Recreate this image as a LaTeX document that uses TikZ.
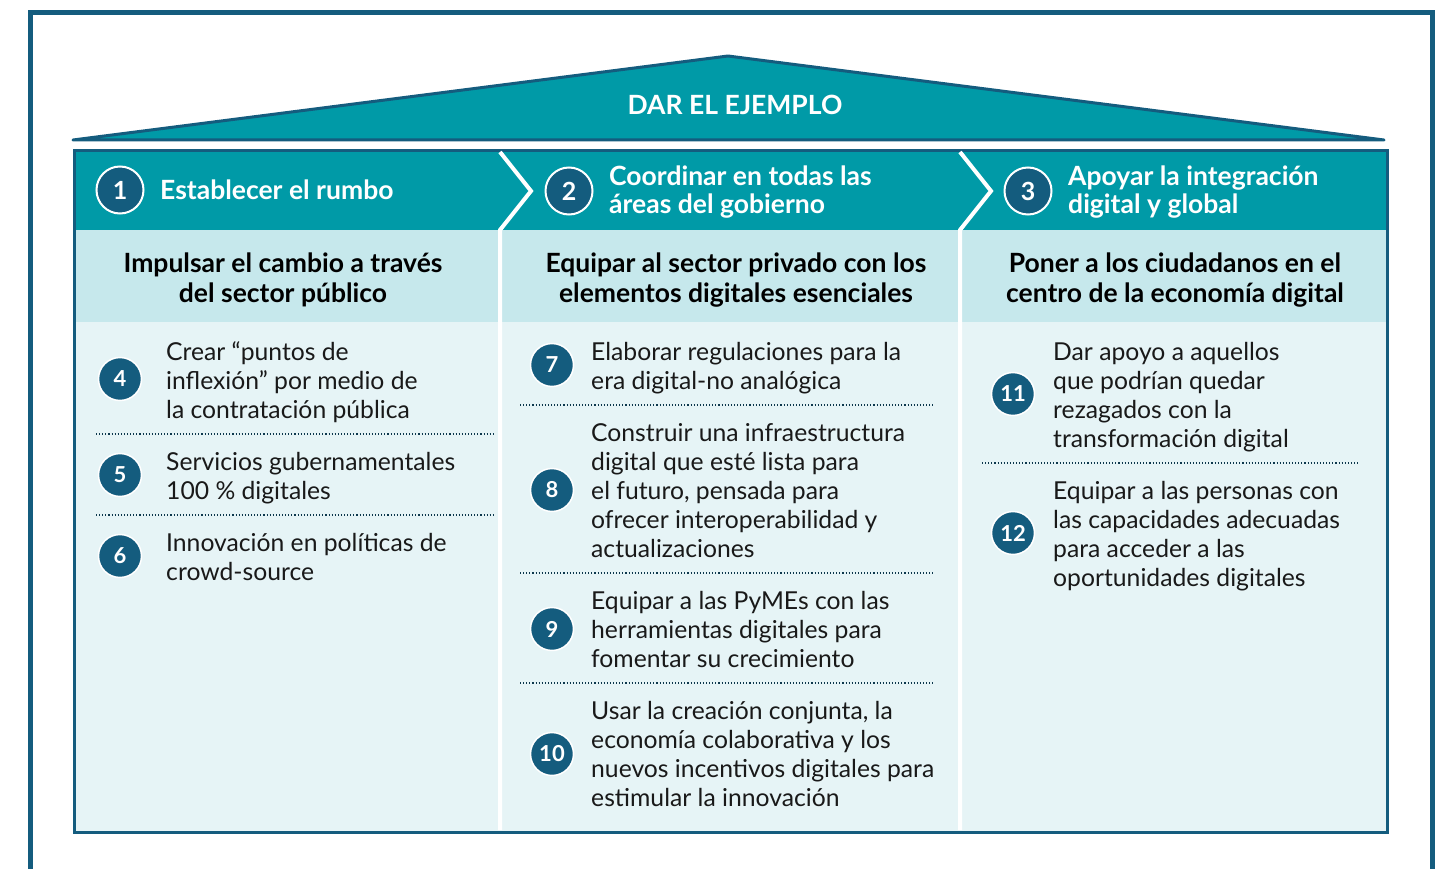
\documentclass[tikz,border=0pt]{standalone}
\usepackage{fontspec}
\setmainfont{Lato}
\definecolor{teal}{RGB}{0,154,167}
\definecolor{dblue}{RGB}{20,92,126}
\definecolor{subbg}{RGB}{198,232,236}
\definecolor{bodybg}{RGB}{230,244,246}
\definecolor{ink}{RGB}{25,25,25}
\tikzset{
  num/.style={circle, fill=dblue, draw=white, line width=1.5pt, minimum size=43pt, inner sep=0pt, text=white, font=\bfseries\fontsize{22}{22}\selectfont},
  hnum/.style={num, minimum size=47pt, line width=2pt, font=\bfseries\fontsize{25}{25}\selectfont},
  body/.style={anchor=base west, align=left, inner sep=0pt, text=ink, font=\fontsize{24.7}{29}\selectfont},
  sub/.style={anchor=base, align=center, inner sep=0pt, text=black, font=\bfseries\fontsize{26.5}{30}\selectfont},
  hdr/.style={anchor=base west, align=left, inner sep=0pt, text=white, font=\bfseries\fontsize{26.5}{28}\selectfont},
  sep/.style={draw=white, line width=4pt, line join=miter},
  dots/.style={draw=dblue!60!black, line width=1.1pt, dash pattern=on 1.1pt off 2pt},
}
\begin{document}
\begin{tikzpicture}[x=1pt,y=-1pt]
\useasboundingbox (0,0) rectangle (1442,869);
\clip (0,0) rectangle (1442,869);
\fill[white] (0,0) rectangle (1442,869);
% outer frame
\draw[dblue, line width=5pt] (30.5,900) -- (30.5,12.5) -- (1432.5,12.5) -- (1432.5,900);
% roof
\fill[teal] (73,140) -- (728,56) -- (1384,140) -- cycle;
\draw[dblue, line width=3pt, line join=round] (73,140) -- (728,56) -- (1384,140) -- cycle;
\node[text=white, font=\bfseries\fontsize{26.5}{26.5}\selectfont, anchor=base] (roof) at (735,115) {DAR EL EJEMPLO};
% main box
\fill[teal] (74.5,151) rectangle (1387,230);
\fill[subbg] (74.5,230) rectangle (1387,322);
\fill[bodybg] (74.5,322) rectangle (1387,831);
\draw[dblue, line width=3pt] (74.5,151) rectangle (1387,832);
% separators
\draw[sep] (500,152) -- (531,191) -- (500,230) -- (500,830);
\draw[sep] (960,152) -- (991,191) -- (960,230) -- (960,830);
% headers
\node[hnum] (h1) at (120,190) {1};
\node[hdr] (ht1) at (160,200) {Establecer el rumbo};
\node[hnum] (h2) at (569,191) {2};
\node[hdr] (ht2) at (609,213) {Coordinar en todas las\\áreas del gobierno};
\node[hnum] (h3) at (1028,191) {3};
\node[hdr] (ht3) at (1068,213) {Apoyar la integración\\digital y global};
% subheaders
\node[sub] (s1) at (283,302) {Impulsar el cambio a través\\del sector público};
\node[sub] (s2) at (736,302) {Equipar al sector privado con los\\elementos digitales esenciales};
\node[sub] (s3) at (1175,302) {Poner a los ciudadanos en el\\centro de la economía digital};
% column 1
\node[num] (n4) at (120,379) {4};
\node[body] (t4) at (166,418) {Crear “puntos de\\inflexión” por medio de\\la contratación pública};
\draw[dots] (96,434) -- (493,434);
\node[num] (n5) at (120,475) {5};
\node[body] (t5) at (166,499) {Servicios gubernamentales\\100 \% digitales};
\draw[dots] (96,515) -- (493,515);
\node[num] (n6) at (120,556) {6};
\node[body] (t6) at (166,580) {Innovación en políticas de\\crowd-source};
% column 2
\node[num] (n7) at (552,365) {7};
\node[body] (t7) at (591,389) {Elaborar regulaciones para la\\era digital-no analógica};
\draw[dots] (520,405) -- (934,405);
\node[num] (n8) at (552,490) {8};
\node[body] (t8) at (591,557) {Construir una infraestructura\\digital que esté lista para\\el futuro, pensada para\\ofrecer interoperabilidad y\\actualizaciones};
\draw[dots] (520,573) -- (934,573);
\node[num] (n9) at (552,629) {9};
\node[body] (t9) at (591,667) {Equipar a las PyMEs con las\\herramientas digitales para\\fomentar su crecimiento};
\draw[dots] (520,683) -- (934,683);
\node[num] (n10) at (552,754) {10};
\node[body] (t10) at (591,806) {Usar la creación conjunta, la\\economía colaborativa y los\\nuevos incentivos digitales para\\estimular la innovación};
% column 3
\node[num] (n11) at (1013,394) {11};
\node[body] (t11) at (1053,447) {Dar apoyo a aquellos\\que podrían quedar\\rezagados con la\\transformación digital};
\draw[dots] (982,463) -- (1360,463);
\node[num] (n12) at (1013,533) {12};
\node[body] (t12) at (1053,586) {Equipar a las personas con\\las capacidades adecuadas\\para acceder a las\\oportunidades digitales};
\end{tikzpicture}
\end{document}
